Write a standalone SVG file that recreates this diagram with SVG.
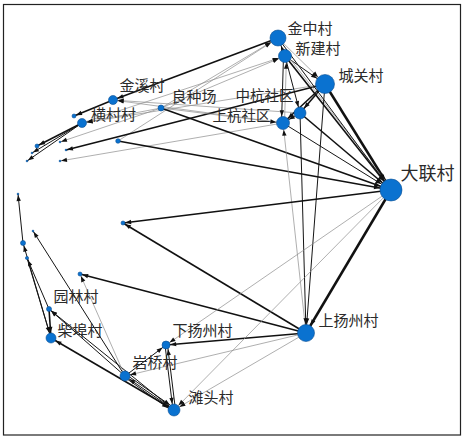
<svg xmlns="http://www.w3.org/2000/svg" width="466" height="440" viewBox="0 0 466 440">
<style>
.g{stroke:#8c8c8c;stroke-width:.7;fill:none}
.k1{stroke:#151515;stroke-width:1;fill:none}
.k2{stroke:#111;stroke-width:1.6;fill:none}
.k3{stroke:#111;stroke-width:2.5;fill:none}
.n{fill:#0a72d0;stroke:#0b4f92;stroke-width:.6}
.t{fill:#2a2a2a;font-family:"Noto Sans CJK SC","Noto Sans",sans-serif;font-size:15px}
</style>
<defs>
<marker id="a1" markerUnits="userSpaceOnUse" markerWidth="8" markerHeight="6" refX="7" refY="2.2" orient="auto" overflow="visible"><path d="M0,0L6,2.2L0,4.4z" fill="#111"/></marker>
<marker id="a2" markerUnits="userSpaceOnUse" markerWidth="8" markerHeight="6" refX="8.2" refY="2.2" orient="auto" overflow="visible"><path d="M0,0L6,2.2L0,4.4z" fill="#111"/></marker>
<marker id="a25" markerUnits="userSpaceOnUse" markerWidth="8" markerHeight="6" refX="8.7" refY="2.2" orient="auto" overflow="visible"><path d="M0,0L6,2.2L0,4.4z" fill="#111"/></marker>
<marker id="a4" markerUnits="userSpaceOnUse" markerWidth="8" markerHeight="6" refX="10.2" refY="2.2" orient="auto" overflow="visible"><path d="M0,0L6,2.2L0,4.4z" fill="#111"/></marker>
<marker id="a45" markerUnits="userSpaceOnUse" markerWidth="8" markerHeight="6" refX="10.7" refY="2.2" orient="auto" overflow="visible"><path d="M0,0L6,2.2L0,4.4z" fill="#111"/></marker>
<marker id="a5" markerUnits="userSpaceOnUse" markerWidth="8" markerHeight="6" refX="11.2" refY="2.2" orient="auto" overflow="visible"><path d="M0,0L6,2.2L0,4.4z" fill="#111"/></marker>
<marker id="a6" markerUnits="userSpaceOnUse" markerWidth="8" markerHeight="6" refX="12.2" refY="2.2" orient="auto" overflow="visible"><path d="M0,0L6,2.2L0,4.4z" fill="#111"/></marker>
<marker id="a65" markerUnits="userSpaceOnUse" markerWidth="8" markerHeight="6" refX="12.7" refY="2.2" orient="auto" overflow="visible"><path d="M0,0L6,2.2L0,4.4z" fill="#111"/></marker>
<marker id="a8" markerUnits="userSpaceOnUse" markerWidth="8" markerHeight="6" refX="14.2" refY="2.2" orient="auto" overflow="visible"><path d="M0,0L6,2.2L0,4.4z" fill="#111"/></marker>
<marker id="a85" markerUnits="userSpaceOnUse" markerWidth="8" markerHeight="6" refX="14.7" refY="2.2" orient="auto" overflow="visible"><path d="M0,0L6,2.2L0,4.4z" fill="#111"/></marker>
<marker id="a95" markerUnits="userSpaceOnUse" markerWidth="8" markerHeight="6" refX="15.7" refY="2.2" orient="auto" overflow="visible"><path d="M0,0L6,2.2L0,4.4z" fill="#111"/></marker>
<marker id="a11" markerUnits="userSpaceOnUse" markerWidth="8" markerHeight="6" refX="17.2" refY="2.2" orient="auto" overflow="visible"><path d="M0,0L6,2.2L0,4.4z" fill="#111"/></marker>
</defs>
<rect x="3.5" y="4.5" width="457" height="430.5" fill="#fff" stroke="#222" stroke-width="1.2"/>
<g id="connectors">
<path class="k2" d="M278,38L113,100" marker-end="url(#a45)"/>
<path class="k2" d="M113,100L74,116" marker-end="url(#a2)"/>
<path class="g" d="M161,108L278,38" marker-end="url(#a8)"/>
<path class="g" d="M118,141L278,38" marker-end="url(#a8)"/>
<path class="g" d="M161,108L285,56" marker-end="url(#a65)"/>
<path class="g" d="M82,123L285,56" marker-end="url(#a65)"/>
<path class="g" d="M161,108L82,123" marker-end="url(#a45)"/>
<path class="g" d="M283,123L113,100" marker-end="url(#a45)"/>
<path class="g" d="M300,113L113,100" marker-end="url(#a45)"/>
<path class="k2" d="M82,123L37,146" marker-end="url(#a2)"/>
<path class="k1" d="M82,123L32,153" marker-end="url(#a1)"/>
<path class="k1" d="M82,123L27,161" marker-end="url(#a1)"/>
<path class="g" d="M161,108L60,142" marker-end="url(#a1)"/>
<path class="k2" d="M325,84L66,150" marker-end="url(#a1)"/>
<path class="g" d="M283,123L60,161" marker-end="url(#a1)"/>
<path class="g" d="M325,84L82,123" marker-end="url(#a45)"/>
<path class="k2" d="M118,141L391,190" marker-end="url(#a11)"/>
<path class="k2" d="M161,108L391,190" marker-end="url(#a11)"/>
<path class="g" d="M161,108L283,123" marker-end="url(#a65)"/>
<path class="k1" d="M285,56L278,38" marker-end="url(#a8)"/>
<path class="g" d="M278,38L325,84" marker-end="url(#a95)"/>
<path class="k1" d="M285,56L325,84" marker-end="url(#a95)"/>
<path class="k1" d="M283.5,56L281.5,123" marker-end="url(#a65)"/>
<path class="g" d="M284.5,123L286.5,56" marker-end="url(#a65)"/>
<path class="k1" d="M285,56L300,113" marker-end="url(#a6)"/>
<path class="k2" d="M325,84L300,113" marker-end="url(#a6)"/>
<path class="k2" d="M325,84L283,123" marker-end="url(#a65)"/>
<path class="k1" d="M300,113L283,123" marker-end="url(#a65)"/>
<path class="k3" d="M325,84L391,190" marker-end="url(#a11)"/>
<path class="k2" d="M285,56L391,190" marker-end="url(#a11)"/>
<path class="g" d="M287,55L391,188" marker-end="url(#a11)"/>
<path class="k1" d="M278,38L391,190" marker-end="url(#a11)"/>
<path class="k2" d="M300,113L391,190" marker-end="url(#a11)"/>
<path class="k1" d="M283,123L391,190" marker-end="url(#a11)"/>
<path class="k3" d="M391,190L306,333" marker-end="url(#a85)"/>
<path class="g" d="M306,333L283,123" marker-end="url(#a65)"/>
<path class="k1" d="M300,113L306,333" marker-end="url(#a85)"/>
<path class="k1" d="M325,84L306,333" marker-end="url(#a85)"/>
<path class="k2" d="M306,333L123,223" marker-end="url(#a2)"/>
<path class="k2" d="M391,190L123,223" marker-end="url(#a2)"/>
<path class="k2" d="M306,333L80,274" marker-end="url(#a2)"/>
<path class="k2" d="M306,333L166,345" marker-end="url(#a4)"/>
<path class="g" d="M306,333L125,376" marker-end="url(#a5)"/>
<path class="g" d="M306,333L174,410" marker-end="url(#a6)"/>
<path class="g" d="M391,190L166,345" marker-end="url(#a4)"/>
<path class="g" d="M391,190L174,410" marker-end="url(#a6)"/>
<path class="k1" d="M165,345L173,410" marker-end="url(#a6)"/>
<path class="k1" d="M175.5,410L167.5,345" marker-end="url(#a4)"/>
<path class="k1" d="M125,376L166,345" marker-end="url(#a4)"/>
<path class="k1" d="M174,410L125,376" marker-end="url(#a5)"/>
<path class="k1" d="M125,377.5L173,411.5" marker-end="url(#a6)"/>
<path class="k1" d="M126,374.5L175,408.5" marker-end="url(#a6)"/>
<path class="k2" d="M174,410L51,338" marker-end="url(#a5)"/>
<path class="k1" d="M174,410L49,309" marker-end="url(#a25)"/>
<path class="k1" d="M125,376L49,309" marker-end="url(#a25)"/>
<path class="k1" d="M125,376L33,231" marker-end="url(#a1)"/>
<path class="g" d="M125,376L80,274" marker-end="url(#a2)"/>
<path class="k2" d="M49,309L51,338" marker-end="url(#a5)"/>
<path class="k1" d="M51,338L23,243" marker-end="url(#a25)"/>
<path class="k1" d="M49,309L27,258" marker-end="url(#a2)"/>
<path class="k1" d="M27,258L51,338" marker-end="url(#a5)"/>
<path class="k1" d="M23,243L18,194" marker-end="url(#a1)"/>
</g>
<g id="n-jinzhong"><circle class="n" cx="278" cy="38" r="8"/><text class="t" x="287.5" y="34">金中村</text></g>
<g id="n-xinjian"><circle class="n" cx="285" cy="56" r="6.5"/><text class="t" x="295.5" y="53.5">新建村</text></g>
<g id="n-chengguan"><circle class="n" cx="325" cy="84" r="9.5"/><text class="t" x="338.5" y="80.5">城关村</text></g>
<g id="n-zhonghang"><circle class="n" cx="300" cy="113" r="6"/><text class="t" x="235.5" y="101" style="font-size:14.5px">中杭社区</text></g>
<g id="n-shanghang"><circle class="n" cx="283" cy="123" r="6.5"/><text class="t" x="212.5" y="120.5" style="font-size:14.5px">上杭社区</text></g>
<g id="n-dalian"><circle class="n" cx="391" cy="190" r="11"/><text class="t" x="400.5" y="180" style="font-size:18px">大联村</text></g>
<g id="n-shangyangzhou"><circle class="n" cx="306" cy="333" r="8.5"/><text class="t" x="318.5" y="325.5">上扬州村</text></g>
<g id="n-jinxi"><circle class="n" cx="113" cy="100" r="4.5"/><text class="t" x="119.5" y="90.5">金溪村</text></g>
<g id="n-hengcun"><circle class="n" cx="82" cy="123" r="4.5"/><text class="t" x="91" y="119.5">横村村</text></g>
<g id="n-liangzhong"><circle class="n" cx="161" cy="108" r="3"/><text class="t" x="171.5" y="101.5">良种场</text></g>
<g id="n-a"><circle class="n" cx="74" cy="116" r="2"/></g>
<g id="n-b"><circle class="n" cx="37" cy="146" r="2"/></g>
<g id="n-c"><circle class="n" cx="118" cy="141" r="2.3"/></g>
<g id="n-d"><circle class="n" cx="123" cy="223" r="2"/></g>
<g id="n-e"><circle class="n" cx="80" cy="274" r="2"/></g>
<g id="n-f"><circle class="n" cx="23" cy="243" r="2.5"/></g>
<g id="n-g"><circle class="n" cx="27" cy="258" r="1.6"/></g>
<g id="n-h"><circle class="n" cx="60" cy="142" r="0.9"/></g>
<g id="n-i"><circle class="n" cx="66" cy="150" r="0.9"/></g>
<g id="n-j"><circle class="n" cx="60" cy="161" r="0.9"/></g>
<g id="n-k"><circle class="n" cx="32" cy="153" r="0.9"/></g>
<g id="n-l"><circle class="n" cx="27" cy="161" r="0.9"/></g>
<g id="n-m"><circle class="n" cx="18" cy="194" r="0.9"/></g>
<g id="n-o"><circle class="n" cx="33" cy="231" r="0.9"/></g>
<g id="n-yuanlin"><circle class="n" cx="49" cy="309" r="2.5"/><text class="t" x="53.5" y="302">园林村</text></g>
<g id="n-chaibu"><circle class="n" cx="51" cy="338" r="5"/><text class="t" x="57.5" y="335.5">柴埠村</text></g>
<g id="n-xiayangzhou"><circle class="n" cx="166" cy="345" r="4"/><text class="t" x="172.5" y="335.5">下扬州村</text></g>
<g id="n-yanqiao"><circle class="n" cx="125" cy="376" r="5"/><text class="t" x="132.5" y="367.5">岩桥村</text></g>
<g id="n-tantou"><circle class="n" cx="174" cy="410" r="6"/><text class="t" x="188.5" y="403">滩头村</text></g>
</svg>
